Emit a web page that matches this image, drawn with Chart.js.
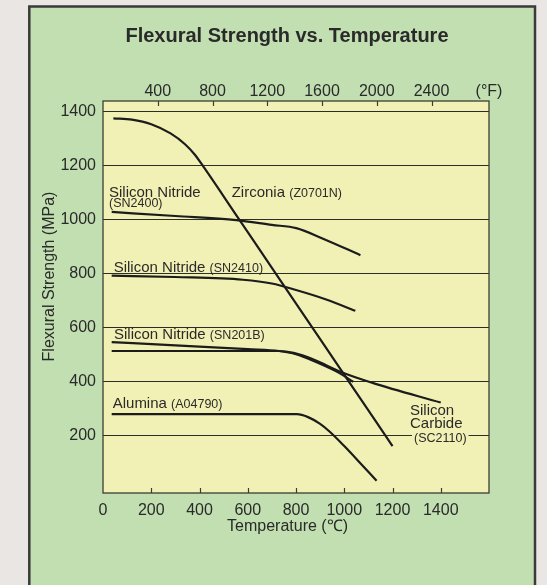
<!DOCTYPE html>
<html>
<head>
<meta charset="utf-8">
<script src="https://cdn.jsdelivr.net/npm/chart.js@4.4.0/dist/chart.umd.min.js"></script>
<style>
  html, body { margin: 0; padding: 0; background: #eae6e4; }
</style>
</head>
<body>
<canvas id="chart" width="547" height="585"></canvas>
<script>
// ----------- DATA -----------
const xTicksC = [0, 200, 400, 600, 800, 1000, 1200, 1400];
const xTicksF = [400, 800, 1200, 1600, 2000, 2400];
const yTicks = [200, 400, 600, 800, 1000, 1200, 1400];

const zirconiaT = [43, 120, 200, 280, 340, 380, 420, 560, 740, 910, 1010, 1200];
const zirconiaS = [1374, 1369, 1352, 1318, 1278, 1240, 1190, 1005, 767, 543, 411, 160];

const sn2400T = [36, 300, 552, 700, 801, 912, 1067];
const sn2400S = [1027, 1012, 997, 979, 967, 928, 867];

const sn2410T = [36, 300, 580, 700, 800, 925, 1046];
const sn2410S = [791, 786, 776, 762, 738, 703, 661];

const sn201bT = [36, 300, 600, 730, 800, 880, 980, 1037];
const sn201bS = [545, 533, 519, 512, 500, 472, 430, 398];

const sicT = [36, 730, 790, 880, 981, 1120, 1400];
const sicS = [512, 512, 505, 478, 436, 393, 321];

const aluminaT = [36, 804, 850, 900, 940, 1000, 1060, 1134];
const aluminaS = [278, 278, 267, 242, 213, 160, 103, 31];

// Helpers
const FONT = '"Liberation Sans", Arial, sans-serif';
const INK = '#2a2a2a';
function pts(xs, ys) { return xs.map((x, i) => ({ x, y: ys[i] })); }
function series(xs, ys) {
    return {
        data: pts(xs, ys),
        borderColor: '#1c1c1c',
        borderWidth: 2.2,
        pointRadius: 0,
        fill: false,
        cubicInterpolationMode: 'monotone'
    };
}

// ----------- DECOR PLUGIN -----------
const decor = {
    id: 'decor',
    beforeDraw(chart) {
        const c = chart.ctx, a = chart.chartArea;
        c.save();
        c.fillStyle = '#eae6e4';
        c.fillRect(0, 0, chart.width, chart.height);
        c.fillStyle = '#c1dfb0';
        c.fillRect(29, 6, 506, 600);
        c.strokeStyle = '#3a3a3a';
        c.lineWidth = 2.5;
        c.strokeRect(29.3, 6.5, 505.7, 600);
        c.fillStyle = '#f2f1b5';
        c.fillRect(a.left, a.top, a.right - a.left, a.bottom - a.top);
        c.restore();
    },
    afterDraw(chart) {
        const c = chart.ctx, a = chart.chartArea;
        const sx = chart.scales.x, sf = chart.scales.x2;
        c.save();
        // plot frame
        c.strokeStyle = '#3d3d35';
        c.lineWidth = 1.3;
        c.strokeRect(a.left, a.top, a.right - a.left, a.bottom - a.top);
        // inner ticks
        c.lineWidth = 1.2;
        c.beginPath();
        xTicksC.slice(1).forEach(v => {
            const p = Math.round(sx.getPixelForValue(v)) + 0.5;
            c.moveTo(p, a.bottom); c.lineTo(p, a.bottom - 5);
        });
        xTicksF.forEach(v => {
            const p = Math.round(sf.getPixelForValue(v)) + 0.5;
            c.moveTo(p, a.top); c.lineTo(p, a.top + 5);
        });
        c.stroke();

        function text(str, x, y, size, opt) {
            opt = opt || {};
            c.font = (opt.weight || 'normal') + ' ' + size + 'px ' + FONT;
            c.fillStyle = INK;
            c.textAlign = opt.align || 'left';
            c.textBaseline = opt.baseline || 'alphabetic';
            if (opt.bg) {
                const w = c.measureText(str).width;
                c.fillStyle = opt.bg;
                c.fillRect(x - 2, y - size + 1, w + 4, size + 2);
                c.fillStyle = INK;
            }
            c.fillText(str, x, y);
            return c.measureText(str).width;
        }
        function pair(big, small, x, y) {
            const w = text(big, x, y, 15);
            c.font = '15px ' + FONT;
            const sp = c.measureText(' ').width;
            text(small, x + w + sp, y, 12.5);
        }

        text('Flexural Strength vs. Temperature', 287, 41.5, 20, { weight: 'bold', align: 'center' });
        text('(°F)', 489, 96, 16, { align: 'center' });
        text('Temperature (℃)', 287.5, 531, 16, { align: 'center' });

        c.save();
        c.translate(49.5, 276.5);
        c.rotate(-Math.PI / 2);
        text('Flexural Strength (MPa)', 0, 0, 16, { align: 'center', baseline: 'middle' });
        c.restore();

        text('Silicon Nitride', 109, 196.7, 15);
        text('(SN2400)', 109, 207, 12.5);
        pair('Zirconia', '(Z0701N)', 231.7, 196.7);
        pair('Silicon Nitride', '(SN2410)', 113.7, 271.7);
        pair('Silicon Nitride', '(SN201B)', 114, 338.7);
        pair('Alumina', '(A04790)', 112.7, 408.3);
        text('Silicon', 410, 415, 15);
        text('Carbide', 410, 428.3, 15);
        text('(SC2110)', 414, 441.5, 12.5, { bg: '#f2f1b5' });
        c.restore();
    }
};

// ----------- CHART -----------
const tickFont = { family: FONT, size: 16, lineHeight: 1 };
const plain = v => String(v);

new Chart(document.getElementById('chart'), {
    type: 'line',
    data: {
        datasets: [
            series(zirconiaT, zirconiaS),
            series(sn2400T, sn2400S),
            series(sn2410T, sn2410S),
            series(sn201bT, sn201bS),
            series(sicT, sicS),
            series(aluminaT, aluminaS)
        ]
    },
    options: {
        responsive: false,
        animation: false,
        devicePixelRatio: 1,
        layout: { padding: { left: 0, right: 58, top: 0, bottom: 0 } },
        plugins: {
            legend: { display: false },
            tooltip: { enabled: false }
        },
        scales: {
            x: {
                type: 'linear', position: 'bottom', min: 0, max: 1600,
                afterBuildTicks: s => { s.ticks = xTicksC.map(v => ({ value: v })); },
                afterFit: s => { s.height = 92; },
                grid: { display: false, drawTicks: false },
                border: { display: false },
                ticks: { color: INK, font: tickFont, padding: 10, maxRotation: 0, autoSkip: false, callback: plain }
            },
            x2: {
                type: 'linear', position: 'top', min: 0, max: 2820,
                afterBuildTicks: s => { s.ticks = xTicksF.map(v => ({ value: v })); },
                afterFit: s => { s.height = 101; },
                grid: { display: false, drawTicks: false },
                border: { display: false },
                ticks: { color: INK, font: tickFont, padding: 1, maxRotation: 0, autoSkip: false, callback: plain }
            },
            y: {
                type: 'linear', position: 'left', min: -14, max: 1438,
                afterBuildTicks: s => { s.ticks = yTicks.map(v => ({ value: v })); },
                afterFit: s => { s.width = 103; },
                grid: { color: '#2e2e28', lineWidth: 1, drawTicks: false },
                border: { display: false },
                ticks: { color: INK, font: tickFont, padding: 7, callback: plain }
            }
        }
    },
    plugins: [decor]
});
</script>
</body>
</html>
